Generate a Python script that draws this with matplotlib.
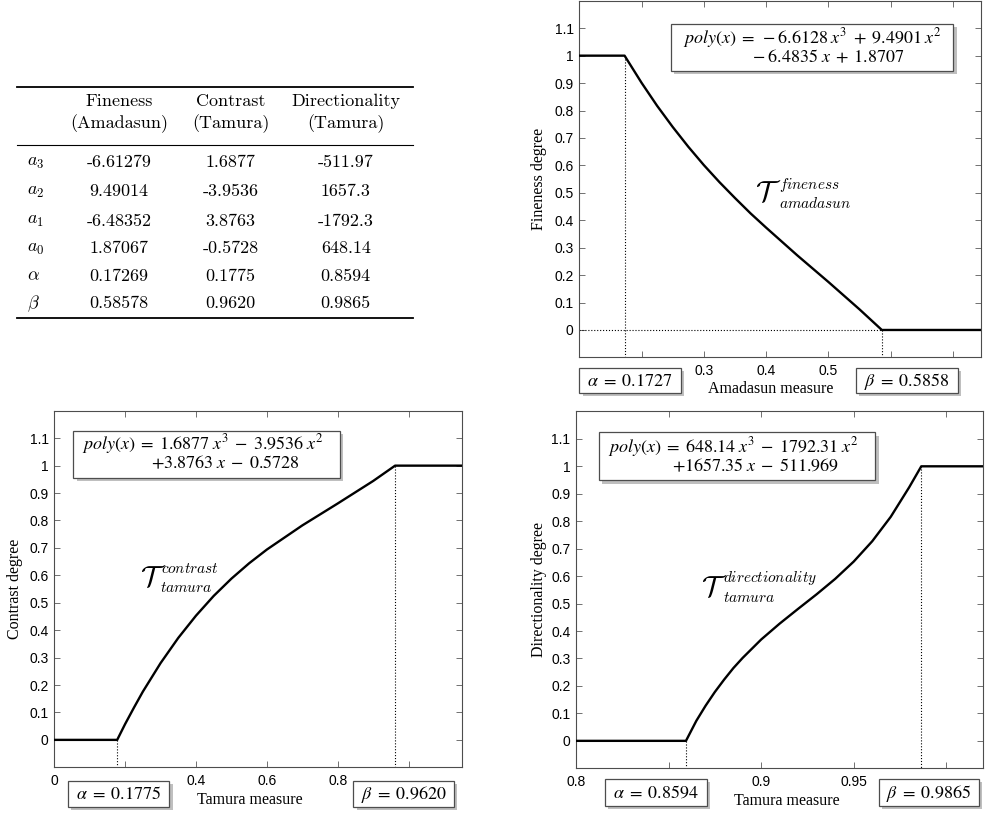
import matplotlib
matplotlib.use('Agg')
import matplotlib.pyplot as plt
from matplotlib.patches import Rectangle
import matplotlib.patheffects as pe

plt.rcParams['font.family'] = ['Liberation Sans', 'DejaVu Sans']

# table values
col_names = ['Fineness', 'Contrast', 'Directionality']
col_subs = ['(Amadasun)', '(Tamura)', '(Tamura)']
row_names = [r'$a_3$', r'$a_2$', r'$a_1$', r'$a_0$', r'$\alpha$', r'$\beta$']
fine_vals = ['-6.61279', '9.49014', '-6.48352', '1.87067', '0.17269', '0.58578']
contr_vals = ['1.6877', '-3.9536', '3.8763', '-0.5728', '0.1775', '0.9620']
direc_vals = ['-511.97', '1657.3', '-1792.3', '648.14', '0.8594', '0.9865']

# curves
fine_x = [0.10, 0.1727, 0.20, 0.225, 0.25, 0.275, 0.30, 0.325, 0.35, 0.375, 0.40,
          0.45, 0.50, 0.55, 0.5858, 0.745]
fine_y = [1.0, 1.0, 0.901, 0.817, 0.740, 0.668, 0.601, 0.539, 0.481, 0.425, 0.373,
          0.272, 0.175, 0.075, 0.0, 0.0]
contr_x = [0.0, 0.1775, 0.20, 0.225, 0.25, 0.30, 0.35, 0.40, 0.45, 0.50, 0.55,
           0.60, 0.70, 0.80, 0.90, 0.962, 1.15]
contr_y = [0.0, 0.0, 0.058, 0.118, 0.176, 0.280, 0.372, 0.453, 0.525, 0.588, 0.644,
           0.694, 0.782, 0.862, 0.944, 1.0, 1.0]
direc_x = [0.80, 0.8594, 0.865, 0.87, 0.875, 0.88, 0.885, 0.89, 0.90, 0.91, 0.92,
           0.93, 0.94, 0.95, 0.96, 0.97, 0.98, 0.9865, 1.02]
direc_y = [0.0, 0.0, 0.073, 0.128, 0.178, 0.223, 0.265, 0.302, 0.369, 0.427, 0.481,
           0.534, 0.590, 0.653, 0.727, 0.816, 0.924, 1.0, 1.0]

fine_a, fine_b = 0.1727, 0.5858
contr_a, contr_b = 0.1775, 0.9620
direc_a, direc_b = 0.8594, 0.9865

yticks = [0, 0.1, 0.2, 0.3, 0.4, 0.5, 0.6, 0.7, 0.8, 0.9, 1.0, 1.1]
ytick_labels = ['0', '0.1', '0.2', '0.3', '0.4', '0.5', '0.6', '0.7', '0.8', '0.9', '1', '1.1']

fig = plt.figure(figsize=(9.85, 8.16), dpi=100)

ax1 = fig.add_axes([579.3 / 985, 1 - 357.4 / 816, 401.7 / 985, 356.6 / 816])
ax2 = fig.add_axes([54.3 / 985, 1 - 767.3 / 816, 407.4 / 985, 356.5 / 816])
ax3 = fig.add_axes([576.0 / 985, 1 - 768.3 / 816, 407.3 / 985, 356.9 / 816])


def style(ax, xlim, xticks, xlabels, xlab, ylab, xl_pos, yl_pos):
    ax.set_xlim(*xlim)
    ax.set_ylim(-0.1, 1.2)
    ax.set_xticks(xticks)
    ax.set_xticklabels(xlabels)
    ax.set_yticks(yticks)
    ax.set_yticklabels(ytick_labels)
    ax.tick_params(direction='in', top=True, right=True, length=4, width=0.6,
                   color='0.35', labelsize=10, pad=4)
    ax.tick_params(axis='x', pad=5)
    for s in ax.spines.values():
        s.set_color('0.3')
        s.set_linewidth(0.8)
    ax.set_xlabel(xlab, family='Liberation Serif', fontsize=11.5)
    ax.set_ylabel(ylab, family='Liberation Serif', fontsize=11.5)
    ax.xaxis.set_label_coords(xl_pos[0], xl_pos[1])
    ax.yaxis.set_label_coords(yl_pos[0], yl_pos[1])


# fineness
ax1.plot(fine_x, fine_y, color='black', lw=1.7, zorder=3)
ax1.plot([fine_a, fine_a], [1.0, -0.1], color='black', ls=':', lw=0.8)
ax1.plot([fine_b, fine_b], [0.0, -0.1], color='black', ls=':', lw=0.8)
ax1.plot([0.1, fine_b], [0.0, 0.0], color='black', ls=':', lw=0.8)
style(ax1, (0.1, 0.745), [0.2, 0.3, 0.4, 0.5, 0.6, 0.7], ['', '0.3', '0.4', '0.5', '', ''],
      'Amadasun measure', 'Fineness degree', (0.477, -0.066), (-0.08, 0.5))

# contrast
ax2.plot(contr_x, contr_y, color='black', lw=1.7, zorder=3)
ax2.plot([contr_a, contr_a], [0.0, -0.1], color='black', ls=':', lw=0.8)
ax2.plot([contr_b, contr_b], [1.0, -0.1], color='black', ls=':', lw=0.8)
style(ax2, (0.0, 1.15), [0, 0.2, 0.4, 0.6, 0.8, 1.0], ['0', '', '0.4', '0.6', '0.8', ''],
      'Tamura measure', 'Contrast degree', (0.48, -0.068), (-0.077, 0.5))

# directionality
ax3.plot(direc_x, direc_y, color='black', lw=1.7, zorder=3)
ax3.plot([direc_a, direc_a], [0.0, -0.1], color='black', ls=':', lw=0.8)
ax3.plot([direc_b, direc_b], [1.0, -0.1], color='black', ls=':', lw=0.8)
style(ax3, (0.8, 1.02), [0.8, 0.85, 0.9, 0.95, 1.0], ['0.8', '', '0.9', '0.95', ''],
      'Tamura measure', 'Directionality degree', (0.517, -0.07), (-0.071, 0.5))

# overlay in pixel coordinates for table and annotation boxes
ov = fig.add_axes([0, 0, 1, 1], zorder=10)
ov.set_xlim(0, 985)
ov.set_ylim(816, 0)
ov.axis('off')

# table
ov.plot([16.7, 413], [86.7, 86.7], color='black', lw=1.3)
ov.plot([16.7, 413], [145, 145], color='black', lw=0.8)
ov.plot([16.7, 413], [318.3, 318.3], color='black', lw=1.3)
col_x = [119, 230.5, 345.8]
row_y = [162.7, 191.7, 221.0, 248.3, 276.0, 303.3]
tfont = dict(family='cmr10', fontsize=13, ha='center', va='center')
for cx, name, sub, vals in zip(col_x, col_names, col_subs, [fine_vals, contr_vals, direc_vals]):
    ov.text(cx, 101.7, name, **tfont)
    ov.text(cx, 123.3, sub, **tfont)
    for ry, v in zip(row_y, vals):
        ov.text(cx, ry, v, **tfont)
for ry, r in zip(row_y, row_names):
    ov.text(26.7, ry, r, fontsize=13, ha='left', va='center', math_fontfamily='cm')

shadow = [pe.SimplePatchShadow(offset=(2.5, -2.5), shadow_rgbFace='0.55', alpha=0.55), pe.Normal()]


def box(x0, y0, x1, y1):
    r = Rectangle((x0, y0), x1 - x0, y1 - y0, facecolor='white', edgecolor='0.3', lw=0.9)
    r.set_path_effects(shadow)
    ov.add_patch(r)


eq = dict(fontsize=13, math_fontfamily='stix', va='center', ha='left')

# equation boxes
box(670.7, 24, 953.3, 71)
ov.text(683, 38.3, r'$poly(x)\;=\;-6.6128\;x^3\;+\;9.4901\;x^2$', **eq)
ov.text(752, 57.3, r'$-\;6.4835\;x\;+\;1.8707$', **eq)

box(73.3, 430.7, 340, 477.7)
ov.text(82, 444.3, r'$poly(x)\;=\;1.6877\;x^3\;-\;3.9536\;x^2$', **eq)
ov.text(151, 463.3, r'$+3.8763\;x\;-\;0.5728$', **eq)

box(599, 432.3, 875.3, 480.3)
ov.text(607.7, 446.7, r'$poly(x)\;=\;648.14\;x^3\;-\;1792.31\;x^2$', **eq)
ov.text(671.7, 466.7, r'$+1657.35\;x\;-\;511.969$', **eq)

# alpha / beta boxes
ab = dict(fontsize=13, math_fontfamily='stix', va='center', ha='center')
for (x0, y0, x1, y1), s in [((579.3, 367.7, 681, 392.7), r'$\alpha\;=\;0.1727$'),
                            ((855.7, 367.7, 957.7, 392.7), r'$\beta\;=\;0.5858$'),
                            ((67.7, 780.7, 169.3, 806.7), r'$\alpha\;=\;0.1775$'),
                            ((353.3, 780.7, 454, 806.7), r'$\beta\;=\;0.9620$'),
                            ((605, 779, 706.7, 806), r'$\alpha\;=\;0.8594$'),
                            ((878.7, 779, 979, 806), r'$\beta\;=\;0.9865$')]:
    box(x0, y0, x1, y1)
    ov.text((x0 + x1) / 2, (y0 + y1) / 2 + 1, s, **ab)

# curve names
cal = dict(fontsize=21, math_fontfamily='cm', va='center', ha='left')
sc = dict(fontsize=11, math_fontfamily='cm', va='center', ha='left')
ov.text(755, 193, r'$\mathcal{T}$', **cal)
ov.text(779, 185, r'$fineness$', **sc)
ov.text(779, 203, r'$amadasun$', **sc)

ov.text(140, 578, r'$\mathcal{T}$', **cal)
ov.text(161, 569, r'$contrast$', **sc)
ov.text(160, 588, r'$tamura$', **sc)

ov.text(701, 588, r'$\mathcal{T}$', **cal)
ov.text(723, 578, r'$directionality$', **sc)
ov.text(723, 598, r'$tamura$', **sc)

fig.savefig('out.png', dpi=100)
